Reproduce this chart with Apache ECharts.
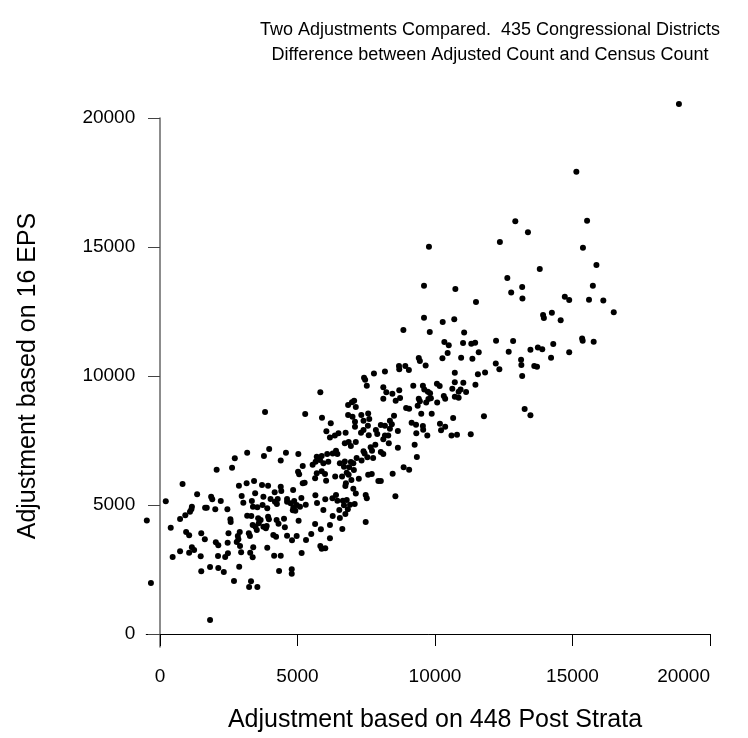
<!DOCTYPE html>
<html><head><meta charset="utf-8">
<script src="https://cdn.jsdelivr.net/npm/echarts@6/dist/echarts.min.js"></script>
<style>html,body{margin:0;padding:0;background:#fff}#c{width:748px;height:738px}</style>
</head><body><div id="c"></div>
<script>
const titleLines = ['Two Adjustments Compared.  435 Congressional Districts', 'Difference between Adjusted Count and Census Count'];
const xTitle = 'Adjustment based on 448 Post Strata';
const yTitle = 'Adjustment based on 16 EPS';
const xTicks = [0, 5000, 10000, 15000, 20000];
const yTicks = [0, 5000, 10000, 15000, 20000];

// [adjustment 448 post strata, adjustment 16 EPS]
const upperTail = [[9780,15010],[12360,15190],[12920,16000],[13380,15570],[18870,20540],[15140,17920],[15530,16020],[15380,14970],[15870,14300],[13810,14150],[13170,13450],[15740,13500],[13180,13000],[14720,13070],[14880,12950],[15600,12960],[16120,12930],[16500,12470],[13930,12360],[13960,12250],[14250,12450],[14570,12160],[15350,11450],[15370,11370],[15770,11330],[13470,11020],[13740,11100],[13900,11035],[14300,11240],[14880,10920],[14220,10710],[13130,10630],[13140,10430],[13610,10390],[13710,10360],[13170,10000],[13260,8720],[13470,8480]];

const upperBand = [[12630,13800],[12770,13240],[9600,13500],[10740,13370],[11490,12870],[9600,12260],[10280,12090],[10700,12200],[8850,11780],[9810,11710],[11060,11690],[12220,11370],[12840,11360],[10340,11320],[10500,11190],[11020,11280],[11320,11250],[11460,11290],[11590,10920],[10460,10890],[10270,10690],[10950,10710],[11360,10670],[12680,10940],[12210,10480],[12340,10260],[9410,10700],[9450,10580],[9660,10410],[8690,10390],[8700,10260],[8920,10390],[9050,10230],[8180,10170],[7780,10100],[10720,10130],[11560,10070],[11820,10140],[7420,9930],[7460,9850],[7520,9620],[8120,9560],[8230,9370],[8450,9310],[8700,9450],[8120,9120],[8570,9040],[8730,9150],[9210,9620],[9560,9620],[9610,9480],[9740,9390],[9820,9330],[10070,9700],[10170,9610],[10720,9760],[11030,9740],[10630,9510],[10930,9480],[10860,9390],[11130,9380],[11470,9660],[10320,9220],[10370,9120],[10720,9200],[10860,9160],[9410,9120],[9450,9020],[9760,9110],[9850,9140],[9680,8970],[10080,8970],[9370,8850],[8950,8760],[9060,8730],[9500,8540],[9880,8540],[10660,8370],[11780,8440],[6840,8880],[6980,8980],[7060,9040],[7120,8800],[6840,8490],[7000,8420],[7090,8230],[7320,8490],[7570,8550],[7610,8330],[7400,8270],[8510,8460],[8360,8270],[8430,8130],[8180,8070],[8030,8100],[9150,8190],[9310,8110],[9560,8060],[9570,7920],[10180,8150],[10370,8035],[7090,8035],[7400,7910],[7560,8070],[7850,7910],[6750,7800],[6490,7780],[6360,7690],[6210,8170],[8360,7960],[8650,7870],[9320,7780],[10220,7900],[7900,7750],[8180,7690],[8300,7690],[7590,7700],[7310,7800],[9720,7690],[10600,7690],[10800,7725],[11300,7740],
[5830,9370],[3820,8600],[5280,8530],[5890,8380],[6050,7860],[6180,7620]];

const middleBand = [[8120,7550],[6720,7390],[6860,7440],[6940,7290],[7120,7440],[7400,7080],[7660,7240],[7710,7100],[7830,7340],[8030,7050],[8120,6980],[8320,7390],[8650,7220],[9260,7340],[9340,6860],[6400,7100],[6450,6980],[6280,7000],[6540,6620],[6720,6690],[6940,6670],[7030,6620],[7150,6820],[7330,6720],[7440,7000],[7540,6850],[7750,6820],[6690,6485],[6880,6460],[7050,6360],[6790,6250],[6620,6100],[6370,6100],[6860,6175],[6960,5970],[7230,6020],[6760,5840],[6740,5735],[7030,5630],[7120,5450],[7570,6175],[7700,6200],[7940,5930],[8030,5930],[8460,6215],[8860,6460],[9060,6370],[6400,5390],[6270,5260],[6450,5165],[6650,5165],[6790,5195],[6910,5010],[7080,5040],[6690,4990],[6520,4805],[6830,4835],[7480,5390],[7520,5260],[8560,5340],[6280,4575],[6540,4500],[6740,4650],[6180,4225],[6630,4070],[7480,4340],[6180,3710]];

const lowerCluster = [[3970,7170],[3170,7030],[2720,6810],[3780,6900],[4580,7030],[5030,6980],[4390,6720],[2060,6370],[2620,6445],[5700,6870],[5880,6900],[6080,6980],[5660,6680],[5820,6745],[6120,6680],[5190,6510],[5550,6560],[5940,6620],[5020,6290],[5060,6190],[5700,6230],[5880,6305],[6000,6200],[5640,6035],[6040,5940],[5190,5840],[5260,5865],[2870,5750],[3150,5840],[3420,5930],[3710,5775],[3930,5750],[4390,5710],[4410,5540],[4840,5580],[3460,5455],[4170,5490],[820,5815],[1350,5415],[1860,5320],[1900,5220],[2210,5155],[2970,5350],[3030,5090],[3340,5155],[3760,5320],[4020,5230],[4280,5230],[4620,5230],[4880,5155],[5140,5270],[5650,5375],[6010,5220],[3540,4910],[3380,4935],[3730,5000],[3900,4870],[4180,5130],[4250,5040],[4620,5130],[4750,5065],[4850,4910],[4970,5000],[5090,4935],[5300,5010],[5710,5080],[1160,4935],[1140,4835],[1090,4740],[1640,4895],[1700,4895],[2010,4835],[2450,4835],[920,4600],[730,4455],[2560,4445],[2570,4340],[3170,4585],[3320,4575],[3570,4485],[3660,4420],[3930,4545],[3960,4445],[4240,4420],[4310,4275],[4510,4470],[4830,4795],[4920,4780],[5940,4805],[5040,4390],[5640,4265]];

const lowerTail = [[390,4120],[950,3955],[1060,3825],[1500,3905],[1630,3670],[2030,3555],[2120,3440],[2490,3905],[2460,3540],[2900,3955],[2830,3800],[2850,3670],[2790,3565],[2910,3410],[3230,3905],[3270,3800],[3370,4225],[3470,4160],[3520,4030],[3590,4290],[3760,4160],[3850,4095],[3880,4185],[4120,3835],[4220,3770],[4540,4135],[4620,3810],[4800,3630],[4970,3800],[5310,3645],[5500,3875],[5850,4060],[460,2985],[730,3205],[1060,3150],[1160,3360],[1240,3255],[1480,3010],[2110,3025],[2370,2985],[2470,3130],[2950,3165],[3280,3150],[3370,2975],[3390,3360],[3900,3345],[4150,3035],[4390,3035],[5150,3140],[5830,3410],[5880,3305],[6010,3320],[1500,2430],[1820,2595],[2120,2560],[2320,2405],[2880,2610],[4330,2440],[4790,2510],[4790,2335],[-330,1975],[2690,2055],[3310,2045],[3240,1820],[3540,1820],[1820,545],[210,5145],[-480,4400]];

const districts = [].concat(upperTail, upperBand, middleBand, lowerCluster, lowerTail);

const FONT = 'Liberation Sans, Arial, Helvetica, sans-serif';
const plain = v => String(v);
const chart = echarts.init(document.getElementById('c'), null, {renderer: 'canvas'});
chart.setOption({
  animation: false,
  backgroundColor: '#fff',
  grid: {left: 146.25, right: 38, top: 118, bottom: 91.1, containLabel: false, outerBoundsMode: 'none'},
  xAxis: {
    type: 'value', min: -500, max: 20000,
    splitLine: {show: false},
    axisLine: {onZero: true, lineStyle: {color: '#000', width: 1}},
    axisTick: {length: 12, customValues: xTicks, lineStyle: {color: '#000', width: 1}},
    axisLabel: {customValues: xTicks, formatter: plain, margin: 20, fontSize: 19, color: '#000', fontFamily: FONT, alignMaxLabel: 'right'}
  },
  yAxis: {
    type: 'value', min: -500, max: 20000,
    splitLine: {show: false},
    axisLine: {onZero: true, lineStyle: {color: '#666', width: 1.5}},
    axisTick: {length: 12, customValues: yTicks, lineStyle: {color: '#444', width: 1}},
    axisLabel: {customValues: yTicks, formatter: plain, margin: 11, fontSize: 19, color: '#000', fontFamily: FONT}
  },
  graphic: [
    {type: 'text', x: 490, y: 30, style: {text: titleLines[0], fontSize: 18, fontFamily: FONT, fill: '#000', textAlign: 'center', textVerticalAlign: 'middle'}},
    {type: 'text', x: 490, y: 55, style: {text: titleLines[1], fontSize: 18, fontFamily: FONT, fill: '#000', textAlign: 'center', textVerticalAlign: 'middle'}},
    {type: 'text', x: 435, y: 720, style: {text: xTitle, fontSize: 25, fontFamily: FONT, fill: '#000', textAlign: 'center', textVerticalAlign: 'middle'}},
    {type: 'text', x: 28, y: 376, rotation: Math.PI / 2, style: {text: yTitle, fontSize: 25, fontFamily: FONT, fill: '#000', textAlign: 'center', textVerticalAlign: 'middle'}}
  ],
  series: [{
    type: 'scatter',
    data: districts,
    symbol: 'circle',
    symbolSize: 6,
    clip: false,
    itemStyle: {color: '#000', opacity: 1},
    emphasis: {disabled: true}
  }]
});
</script></body></html>
